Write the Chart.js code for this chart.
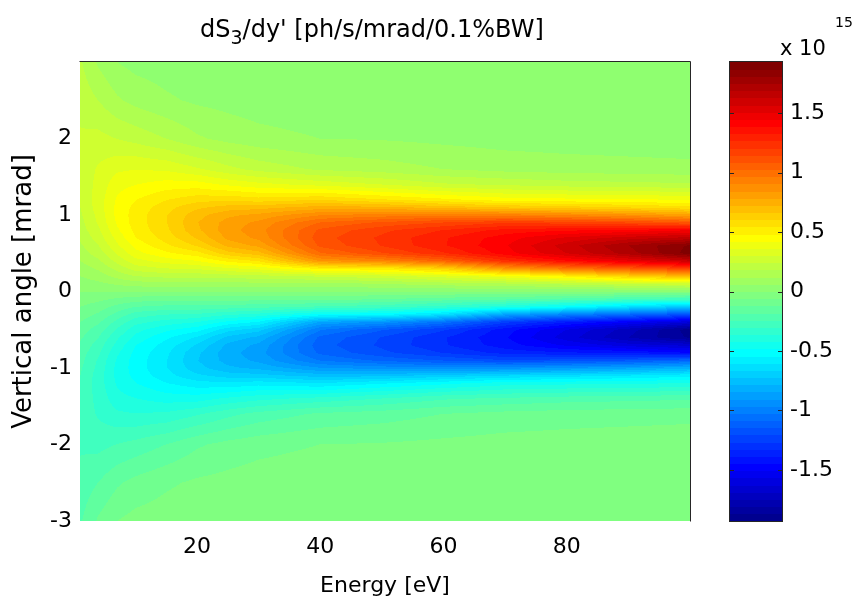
<!DOCTYPE html>
<html>
<head>
<meta charset="utf-8">
<script src="https://cdn.jsdelivr.net/npm/chart.js@4/dist/chart.umd.min.js"></script>
<style>
  html, body { margin: 0; padding: 0; background: #fff; }
  #wrap { position: relative; width: 856px; height: 603px; overflow: hidden; font-family: 'DejaVu Sans', sans-serif; color: #000; }
  #main { position: absolute; left: 0; top: 0; }
  #cbar { position: absolute; left: 700px; top: 0; }
  .txt { position: absolute; white-space: nowrap; line-height: 1; }
</style>
</head>
<body>
<div id="wrap">
  <canvas id="main" width="856" height="603"></canvas>
  <canvas id="cbar" width="156" height="603"></canvas>
  <div class="txt" id="title" style="left:200px; top:17px; font-size:24px;">dS<span style="font-size:19px; position:relative; top:7px;">3</span>/dy' [ph/s/mrad/0.1%BW]</div>
  <div class="txt" style="left:780px; top:38px; font-size:21px;">x 10</div>
  <div class="txt" style="left:835px; top:15px; font-size:14px;">15</div>
</div>
<script>
// ---- Data ----
// Photon energy grid [eV] (columns)
const energies = [1, 4, 7, 10, 15, 20, 25, 30, 40, 50, 60, 70, 80, 90, 100];
// Vertical angle grid [mrad] (rows)
const angles = [-3, -2.5, -2, -1.6, -1.4, -1.2, -1.1, -1, -0.9, -0.8, -0.7, -0.6, -0.5, -0.4, -0.3, -0.2, -0.1,
                0, 0.1, 0.2, 0.3, 0.4, 0.5, 0.6, 0.7, 0.8, 0.9, 1, 1.1, 1.2, 1.4, 1.6, 2, 2.5, 3];
// dS3/dy' in units of 1e15 ph/s/mrad/0.1%BW: one profile (along `angles`) per energy
const s3E1   = [-.19,-.22,-.25,-.26,-.26,-.25,-.24,-.23,-.22,-.21,-.19,-.17,-.15,-.12,-.09,-.06,-.03,0,.03,.06,.09,.12,.15,.17,.19,.21,.22,.23,.24,.25,.26,.26,.25,.22,.19];
const s3E4   = [-.11,-.18,-.26,-.31,-.32,-.33,-.33,-.32,-.31,-.29,-.27,-.24,-.21,-.17,-.13,-.09,-.045,0,.045,.09,.13,.17,.21,.24,.27,.29,.31,.32,.33,.33,.32,.31,.26,.18,.11];
const s3E7   = [-.06,-.13,-.24,-.35,-.40,-.43,-.44,-.44,-.43,-.41,-.38,-.35,-.31,-.26,-.20,-.14,-.07,0,.07,.14,.20,.26,.31,.35,.38,.41,.43,.44,.44,.43,.40,.35,.24,.13,.06];
const s3E10  = [-.04,-.10,-.22,-.36,-.42,-.48,-.50,-.51,-.51,-.50,-.48,-.44,-.40,-.34,-.27,-.18,-.09,0,.09,.18,.27,.34,.40,.44,.48,.50,.51,.51,.50,.48,.42,.36,.22,.10,.04];
const s3E15  = [-.03,-.07,-.18,-.35,-.45,-.54,-.58,-.60,-.60,-.59,-.57,-.53,-.47,-.39,-.30,-.20,-.10,0,.10,.20,.30,.39,.47,.53,.57,.59,.60,.60,.58,.54,.45,.35,.18,.07,.03];
const s3E20  = [-.02,-.05,-.13,-.31,-.45,-.58,-.65,-.70,-.72,-.71,-.67,-.61,-.52,-.42,-.31,-.20,-.10,0,.10,.20,.31,.42,.52,.61,.67,.71,.72,.70,.65,.58,.45,.31,.13,.05,.02];
const s3E25  = [-.015,-.04,-.10,-.26,-.41,-.59,-.69,-.77,-.81,-.82,-.80,-.74,-.64,-.50,-.35,-.21,-.10,0,.10,.21,.35,.50,.64,.74,.80,.82,.81,.77,.69,.59,.41,.26,.10,.04,.015];
const s3E30  = [-.01,-.03,-.08,-.22,-.38,-.57,-.70,-.80,-.86,-.88,-.86,-.80,-.70,-.55,-.38,-.22,-.10,0,.10,.22,.38,.55,.70,.80,.86,.88,.86,.80,.70,.57,.38,.22,.08,.03,.01];
const s3E40  = [-.01,-.02,-.06,-.17,-.34,-.60,-.75,-.90,-1.03,-1.10,-1.12,-1.10,-1.02,-.85,-.50,-.25,-.10,0,.10,.25,.50,.85,1.02,1.10,1.12,1.10,1.03,.90,.75,.60,.34,.17,.06,.02,.01];
const s3E50  = [-.008,-.02,-.055,-.15,-.30,-.55,-.74,-.93,-1.10,-1.19,-1.22,-1.21,-1.14,-.92,-.52,-.28,-.12,0,.12,.28,.52,.92,1.14,1.21,1.22,1.19,1.10,.93,.74,.55,.30,.15,.055,.02,.008];
const s3E60  = [-.006,-.015,-.045,-.12,-.25,-.50,-.70,-.95,-1.15,-1.27,-1.32,-1.32,-1.26,-1.05,-.62,-.33,-.15,0,.15,.33,.62,1.05,1.26,1.32,1.32,1.27,1.15,.95,.70,.50,.25,.12,.045,.015,.006];
const s3E70  = [-.005,-.012,-.035,-.10,-.23,-.45,-.66,-.93,-1.20,-1.35,-1.42,-1.44,-1.42,-1.25,-.85,-.40,-.17,0,.17,.40,.85,1.25,1.42,1.44,1.42,1.35,1.20,.93,.66,.45,.23,.10,.035,.012,.005];
const s3E80  = [-.004,-.01,-.03,-.09,-.21,-.44,-.63,-.90,-1.18,-1.38,-1.52,-1.60,-1.57,-1.38,-.98,-.50,-.20,0,.20,.50,.98,1.38,1.57,1.60,1.52,1.38,1.18,.90,.63,.44,.21,.09,.03,.01,.004];
const s3E90  = [-.003,-.008,-.025,-.085,-.20,-.43,-.60,-.86,-1.15,-1.40,-1.60,-1.75,-1.72,-1.50,-1.08,-.62,-.24,0,.24,.62,1.08,1.50,1.72,1.75,1.60,1.40,1.15,.86,.60,.43,.20,.085,.025,.008,.003];
const s3E100 = [-.003,-.008,-.02,-.08,-.19,-.42,-.56,-.80,-1.10,-1.45,-1.65,-1.88,-1.90,-1.62,-1.18,-.72,-.28,0,.28,.72,1.18,1.62,1.90,1.88,1.65,1.45,1.10,.80,.56,.42,.19,.08,.02,.008,.003];
const s3Profiles = [s3E1, s3E4, s3E7, s3E10, s3E15, s3E20, s3E25, s3E30, s3E40, s3E50, s3E60, s3E70, s3E80, s3E90, s3E100];

// Tick values and colour limits
const xTickValues = [20, 40, 60, 80];
const yTickValues = [-3, -2, -1, 0, 1, 2];
const cbarTickValues = [-1.5, -1, -0.5, 0, 0.5, 1, 1.5];
const colorLimits = [-1.93, 1.93];

// ---- MATLAB jet(64) colormap ----
function jet64(i) {
  const u = [];
  for (let k = 1; k <= 16; k++) u.push(k / 16);
  for (let k = 0; k < 15; k++) u.push(1);
  for (let k = 16; k >= 1; k--) u.push(k / 16);
  const r = (i >= 24 && i - 24 < u.length) ? u[i - 24] : 0;
  const g = (i >= 8 && i - 8 < u.length) ? u[i - 8] : 0;
  const b = (i + 8 < u.length) ? u[i + 8] : 0;
  return [Math.round(r * 255), Math.round(g * 255), Math.round(b * 255)];
}
const JET = Array.from({length: 64}, (_, i) => jet64(i));
function colorIndex(v) {
  const t = (v - colorLimits[0]) / (colorLimits[1] - colorLimits[0]);
  return Math.max(0, Math.min(63, Math.floor(t * 64)));
}
function bracket(arr, v) {
  if (v <= arr[0]) return [0, 0, 0];
  if (v >= arr[arr.length - 1]) return [arr.length - 1, arr.length - 1, 0];
  for (let i = 0; i < arr.length - 1; i++) {
    if (v >= arr[i] && v <= arr[i + 1]) return [i, i + 1, (v - arr[i]) / (arr[i + 1] - arr[i])];
  }
  return [0, 0, 0];
}

// Grid points as a dataset (the heatmap cells)
const cellData = [];
energies.forEach((e, ci) => angles.forEach((a, ri) => cellData.push({x: e, y: a, v: s3Profiles[ci][ri]})));

const FONT = 'DejaVu Sans';

const heatmapPlugin = {
  id: 'heatmap',
  beforeDatasetsDraw(chart) {
    const {ctx, chartArea: ca, scales: {x, y}} = chart;
    const L = Math.round(ca.left), T = Math.round(ca.top);
    const w = Math.round(ca.right) - L, h = Math.round(ca.bottom) - T;
    const img = ctx.createImageData(w, h);
    const colB = [];
    for (let px = 0; px < w; px++) colB.push(bracket(energies, x.getValueForPixel(L + px + 0.5)));
    for (let py = 0; py < h; py++) {
      const [r0, r1, fr] = bracket(angles, y.getValueForPixel(T + py + 0.5));
      for (let px = 0; px < w; px++) {
        const [c0, c1, fc] = colB[px];
        const v00 = s3Profiles[c0][r0], v01 = s3Profiles[c0][r1];
        const v10 = s3Profiles[c1][r0], v11 = s3Profiles[c1][r1];
        const v = (v00 * (1 - fr) + v01 * fr) * (1 - fc) + (v10 * (1 - fr) + v11 * fr) * fc;
        const c = JET[colorIndex(v)];
        const k = (py * w + px) * 4;
        img.data[k] = c[0]; img.data[k + 1] = c[1]; img.data[k + 2] = c[2]; img.data[k + 3] = 255;
      }
    }
    ctx.putImageData(img, L, T);
    ctx.save();
    ctx.strokeStyle = '#262626';
    ctx.lineWidth = 1;
    ctx.beginPath();
    ctx.moveTo(L - 0.5, T - 0.5); ctx.lineTo(L + w + 0.5, T - 0.5); ctx.lineTo(L + w + 0.5, T + h + 0.5);
    ctx.stroke();
    ctx.restore();
  }
};

new Chart(document.getElementById('main'), {
  type: 'scatter',
  data: { datasets: [{ data: cellData, pointRadius: 0, pointHoverRadius: 0, showLine: false }] },
  options: {
    responsive: false, animation: false, devicePixelRatio: 1,
    events: [],
    layout: { padding: { left: 0, top: 62, right: 166, bottom: 0 } },
    plugins: { legend: { display: false }, tooltip: { enabled: false }, title: { display: false } },
    scales: {
      x: {
        type: 'linear', min: 1, max: 100, position: 'bottom',
        afterFit: s => { s.height = 82; },
        afterBuildTicks: s => { s.ticks = xTickValues.map(v => ({value: v})); },
        ticks: { font: { family: FONT, size: 22 }, color: '#000', padding: 13, maxRotation: 0, autoSkip: false },
        grid: { display: false, drawTicks: false }, border: { display: false },
        title: { display: true, text: 'Energy [eV]', color: '#000', font: { family: FONT, size: 22 }, padding: { top: 0, bottom: 4 } }
      },
      y: {
        type: 'linear', min: -3, max: 3, position: 'left',
        afterFit: s => { s.width = 80; },
        afterBuildTicks: s => { s.ticks = yTickValues.map(v => ({value: v})); },
        ticks: { font: { family: FONT, size: 22 }, color: '#000', padding: 8, autoSkip: false },
        grid: { display: false, drawTicks: false }, border: { display: false },
        title: { display: true, text: 'Vertical angle [mrad]', color: '#000', font: { family: FONT, size: 26 }, padding: { top: 9, bottom: 0 } }
      }
    }
  },
  plugins: [heatmapPlugin]
});

const colorbarPlugin = {
  id: 'colorbar',
  beforeDatasetsDraw(chart) {
    const {ctx, chartArea: ca, scales: {y}} = chart;
    const L = Math.round(ca.left), R = Math.round(ca.right);
    const step = (colorLimits[1] - colorLimits[0]) / 64;
    for (let i = 0; i < 64; i++) {
      const y0 = y.getPixelForValue(colorLimits[0] + i * step);
      const y1 = y.getPixelForValue(colorLimits[0] + (i + 1) * step);
      const c = JET[i];
      ctx.fillStyle = `rgb(${c[0]},${c[1]},${c[2]})`;
      ctx.fillRect(L, Math.floor(y1), R - L, Math.ceil(y0) - Math.floor(y1));
    }
    const T = Math.round(ca.top), B = Math.round(ca.bottom);
    ctx.save();
    ctx.strokeStyle = '#262626';
    ctx.lineWidth = 1;
    ctx.strokeRect(L - 0.5, T - 0.5, R - L + 1, B - T + 1);
    ctx.beginPath();
    cbarTickValues.forEach(v => {
      const py = Math.round(y.getPixelForValue(v)) + 0.5;
      ctx.moveTo(L, py); ctx.lineTo(L + 4, py);
      ctx.moveTo(R, py); ctx.lineTo(R - 4, py);
    });
    ctx.stroke();
    ctx.restore();
  }
};

new Chart(document.getElementById('cbar'), {
  type: 'scatter',
  data: { datasets: [{ data: [], pointRadius: 0 }] },
  options: {
    responsive: false, animation: false, devicePixelRatio: 1,
    events: [],
    layout: { padding: { left: 30, top: 62, right: 0, bottom: 82 } },
    plugins: { legend: { display: false }, tooltip: { enabled: false } },
    scales: {
      x: { display: false, min: 0, max: 1 },
      y: {
        type: 'linear', min: colorLimits[0], max: colorLimits[1], position: 'right',
        afterFit: s => { s.width = 74; },
        afterBuildTicks: s => { s.ticks = cbarTickValues.map(v => ({value: v})); },
        ticks: { font: { family: FONT, size: 22 }, color: '#000', padding: 8, autoSkip: false,
                 callback: v => String(v) },
        grid: { display: false, drawTicks: false }, border: { display: false }
      }
    }
  },
  plugins: [colorbarPlugin]
});
</script>
</body>
</html>
